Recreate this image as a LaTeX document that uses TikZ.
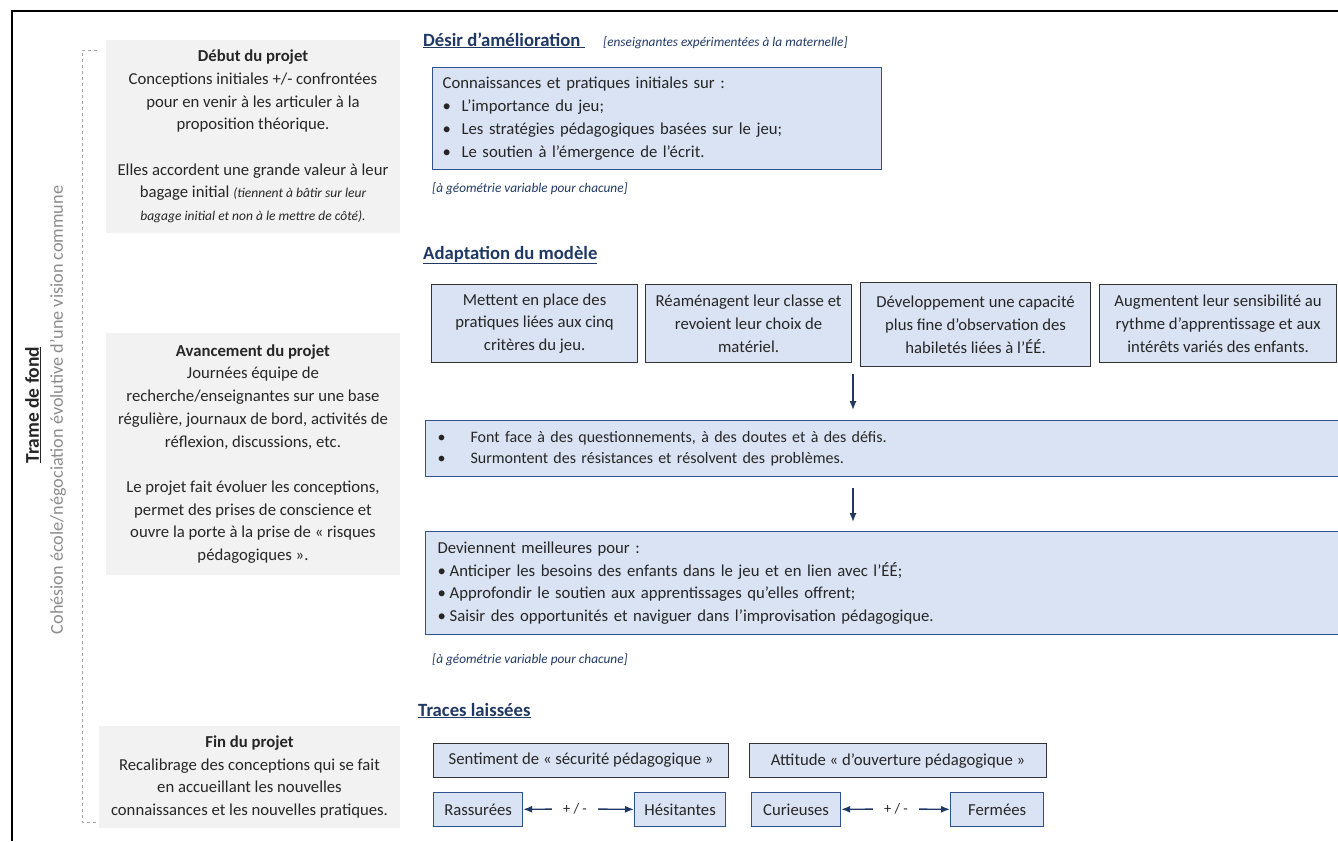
\documentclass[tikz,border=0pt]{standalone}
\usepackage{fontspec}
\setmainfont{Carlito}
\usetikzlibrary{arrows.meta}

\definecolor{navy}{HTML}{1F3864}
\definecolor{paleblue}{HTML}{DAE3F3}
\definecolor{blueline}{HTML}{2F528F}
\definecolor{phasegray}{HTML}{F2F2F2}
\definecolor{inkgray}{HTML}{262626}
\definecolor{softgray}{HTML}{8C8C8C}

\newcommand{\bodyfont}{\fontsize{16.7}{22.7}\selectfont}
\newcommand{\smallit}{\fontsize{13.5}{22.7}\selectfont\itshape}
\newcommand{\bul}[1][19pt]{\makebox[#1][l]{\textbullet}}
\newcommand{\titre}[1]{\textbf{\underline{#1}}}

\tikzset{
  phase/.style={fill=phasegray, text=inkgray, align=center, inner sep=0pt, font=\bodyfont},
  bluebox/.style={draw=blueline, line width=1.2pt, fill=paleblue, text=inkgray, inner sep=0pt, font=\bodyfont},
  darkbox/.style={bluebox, draw=black!80},
  heading/.style={anchor=base west, text=navy, inner sep=0pt, font=\fontsize{18.7}{22}\selectfont},
  note/.style={anchor=base west, text=navy, inner sep=0pt, font=\fontsize{13.3}{16}\selectfont\itshape},
  flow/.style={-{Latex[length=9pt,width=7pt]}, navy, line width=1.4pt},
}

\begin{document}
\begin{tikzpicture}[x=1pt, y=-1pt]

            \useasboundingbox (0,0) rectangle (1338,841);

            % frame and background thread
            \draw[line width=2.4pt] (12,841) -- (12,11) -- (1338,11);
            \draw[softgray!80, dashed, line width=0.8pt] (97,50) -- (82,50) -- (82,822) -- (97,822);
            \node[rotate=90, text=inkgray, inner sep=0pt, font=\fontsize{19.5}{22}\selectfont] (trame) at (33,405)
                {\titre{Trame de fond}};
            \node[rotate=90, text=softgray, inner sep=0pt, font=\fontsize{18.2}{20}\selectfont] (cohesion) at (58,410)
                {Cohésion école/négociation évolutive d’une vision commune};

            % phases of the project
            \node[phase, minimum width=294pt, minimum height=193pt] (debut) at (253,136.5)
                {\textbf{Début du projet}\\
                 Conceptions initiales +/- confrontées\\
                 pour en venir à les articuler à la\\
                 proposition théorique.\\[22.7pt]
                 Elles accordent une grande valeur à leur\\
                 bagage initial {\smallit (tiennent à bâtir sur leur}\\
                 {\smallit bagage initial et non à le mettre de côté).}};
            \node[phase, minimum width=294pt, minimum height=242pt] (avance) at (253,454)
                {\textbf{Avancement du projet}\\
                 Journées équipe de\\
                 recherche/enseignantes sur une base\\
                 régulière, journaux de bord, activités de\\
                 réflexion, discussions, etc.\\[22.7pt]
                 Le projet fait évoluer les conceptions,\\
                 permet des prises de conscience et\\
                 ouvre la porte à la prise de « risques\\
                 pédagogiques ».};
            \node[phase, minimum width=301pt, minimum height=102pt] (fin) at (249.5,777)
                {\textbf{Fin du projet}\\
                 Recalibrage des conceptions qui se fait\\
                 en accueillant les nouvelles\\
                 connaissances et les nouvelles pratiques.};

            % desir
            \node[heading] (desir) at (423,46) {\titre{Désir d’amélioration\ }};
            \node[note] (public) at (603,46) {[enseignantes expérimentées à la maternelle]};
            \node[bluebox, anchor=north west, align=left, text width=429pt, inner xsep=10pt, minimum height=102pt] (init) at (432,67)
                {Connaissances et pratiques initiales sur :\\
                 \bul L’importance du jeu;\\
                 \bul Les stratégies pédagogiques basées sur le jeu;\\
                 \bul Le soutien à l’émergence de l’écrit.};
            \node[note] (geo1) at (432,192) {[à géométrie variable pour chacune]};

            % adaptation
            \node[heading] (adapt) at (423,259) {\titre{Adaptation du modèle}};
            \node[darkbox, anchor=north west, align=center, minimum width=206pt, minimum height=78pt] (m1) at (431,284)
                {Mettent en place des\\ pratiques liées aux cinq\\ critères du jeu.};
            \node[darkbox, anchor=north west, align=center, minimum width=206pt, minimum height=78pt] (m2) at (645,284)
                {Réaménagent leur classe et\\ revoient leur choix de\\ matériel.};
            \node[darkbox, anchor=north west, align=center, minimum width=230pt, minimum height=84pt] (m3) at (860,282)
                {Développement une capacité\\ plus fine d’observation des\\ habiletés liées à l’ÉÉ.};
            \node[darkbox, anchor=north west, align=center, minimum width=237pt, minimum height=78pt] (m4) at (1099,284)
                {Augmentent leur sensibilité au\\ rythme d’apprentissage et aux\\ intérêts variés des enfants.};

            \node[bluebox, anchor=north west, align=left, text width=896pt, inner xsep=12pt, minimum height=56pt,
                  font=\fontsize{16}{21}\selectfont] (face) at (425,420)
                {\bul[33pt]Font face à des questionnements, à des doutes et à des défis.\\
                 \bul[33pt]Surmontent des résistances et résolvent des problèmes.};
            \node[bluebox, anchor=north west, align=left, text width=896pt, inner xsep=12pt, minimum height=103pt] (mieux) at (425,531)
                {Deviennent meilleures pour :\\
                 \bul[12pt]Anticiper les besoins des enfants dans le jeu et en lien avec l’ÉÉ;\\
                 \bul[12pt]Approfondir le soutien aux apprentissages qu’elles offrent;\\
                 \bul[12pt]Saisir des opportunités et naviguer dans l’improvisation pédagogique.};
            \node[note] (geo2) at (432,663) {[à géométrie variable pour chacune]};

            \coordinate (a1) at (853,374);
            \draw[flow, shorten >=10pt] (a1) -- (a1 |- face.north);
            \draw[flow, shorten <=11pt, shorten >=9pt] (a1 |- face.south) -- (a1 |- mieux.north);

            % traces
            \node[heading] (traces) at (418,716) {\titre{Traces laissées}};
            \node[darkbox, anchor=north west, minimum width=295pt, minimum height=34pt] (secu) at (433,743)
                {Sentiment de « sécurité pédagogique »};
            \node[darkbox, anchor=north west, minimum width=297pt, minimum height=34pt] (ouvert) at (749,743)
                {Attitude « d’ouverture pédagogique »};
            \node[bluebox, anchor=north west, minimum width=89pt, minimum height=34pt] (ras) at (433,792) {Rassurées};
            \node[bluebox, anchor=north west, minimum width=91pt, minimum height=34pt] (hes) at (634,792) {Hésitantes};
            \node[bluebox, anchor=north west, minimum width=89pt, minimum height=34pt] (cur) at (751,792) {Curieuses};
            \node[bluebox, anchor=north west, minimum width=93pt, minimum height=34pt] (fer) at (950,792) {Fermées};
            \node[inner xsep=11pt, inner ysep=0pt, text=inkgray, font=\fontsize{14.5}{16}\selectfont] (pm1) at (575,809) {+ / -};
            \node[inner xsep=11pt, inner ysep=0pt, text=inkgray, font=\fontsize{14.5}{16}\selectfont] (pm2) at (896,809) {+ / -};

            \draw[flow] (pm1) -- (ras);
            \draw[flow] (pm1) -- (hes);
            \draw[flow] (pm2) -- (cur);
            \draw[flow] (pm2) -- (fer);

\end{tikzpicture}
\end{document}
